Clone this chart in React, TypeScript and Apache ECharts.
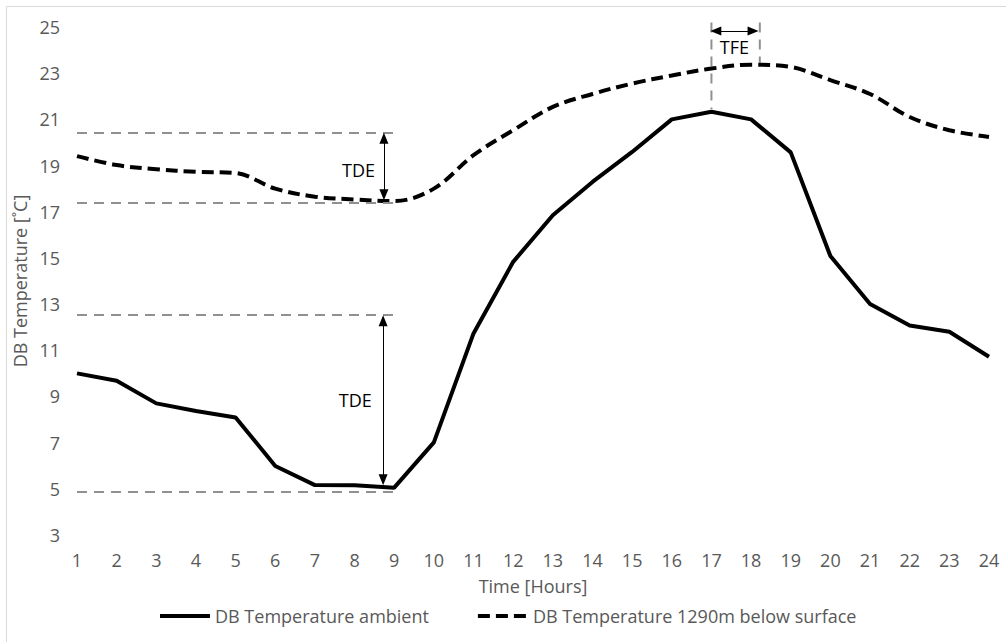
import React, { useEffect, useRef } from "react";
import * as echarts from "echarts";

const hours = [1, 2, 3, 4, 5, 6, 7, 8, 9, 10, 11, 12, 13, 14, 15, 16, 17, 18, 19, 20, 21, 22, 23, 24];
const ambient = [10.0, 9.68, 8.7, 8.37, 8.09, 5.99, 5.16, 5.15, 5.05, 7.01, 11.73, 14.83, 16.85, 18.29, 19.59, 21.0, 21.33, 21.0, 19.57, 15.08, 13.0, 12.07, 11.8, 10.72];
const underground = [19.41, 19.02, 18.84, 18.73, 18.68, 18.0, 17.65, 17.53, 17.46, 18.0, 19.45, 20.53, 21.54, 22.1, 22.55, 22.9, 23.2, 23.37, 23.27, 22.7, 22.1, 21.1, 20.53, 20.24];

const seriesNames = ["DB Temperature ambient", "DB Temperature 1290m below surface"];
const xAxisName = "Time [Hours]";
const yAxisName = "DB Temperature [˚C]";

// annotation levels (data space)
const tdeUpperLevels = [20.42, 17.4];
const tdeLowerLevels = [12.52, 4.87];
const tdeGuideFrom = 1;
const tdeGuideTo = 9;
const tdeUpperArrow = { x: 8.74, from: 20.42, to: 17.5 };
const tdeLowerArrow = { x: 8.72, from: 12.52, to: 5.15 };
const tdeUpperLabel = [8.1, 18.8];
const tdeLowerLabel = [8.02, 8.84];
const tfeGuides = [
  { x: 17, from: 25.2, to: 21.45 },
  { x: 18.22, from: 25.2, to: 23.45 },
];
const tfeArrow = { y: 24.83, from: 16.97, to: 18.19 };
const tfeLabel = [17.58, 24.14];

const FONT = "'Open Sans', 'Noto Sans', sans-serif";
const GRAY_TEXT = "#595959";
const GUIDE_GRAY = "#909090";

export default function App() {
  const ref = useRef<HTMLDivElement>(null);

  useEffect(() => {
    if (!ref.current) return;
    const chart = echarts.init(ref.current, undefined, { renderer: "svg" });

    const headY = 0.24; // half arrow head in y units
    const headX = 0.14; // half arrow head in x units
    const guideStyle = { color: GUIDE_GRAY, width: 2, type: [10, 7] as any };
    const arrowStyle = { color: "#000000", width: 1, type: "solid" as any };
    const arrowSym = { symbol: "triangle", symbolSize: [9, 11] };

    const guide = (x1: number, y1: number, x2: number, y2: number) => [
      { coord: [x1, y1], symbol: "none", lineStyle: guideStyle },
      { coord: [x2, y2], symbol: "none", lineStyle: guideStyle },
    ];
    const arrow = (x1: number, y1: number, x2: number, y2: number) => [
      { coord: [x1, y1], ...arrowSym, lineStyle: arrowStyle },
      { coord: [x2, y2], ...arrowSym, lineStyle: arrowStyle },
    ];

    const markData: any[] = [];
    [...tdeUpperLevels, ...tdeLowerLevels].forEach((lv) => markData.push(guide(tdeGuideFrom, lv, tdeGuideTo, lv)));
    markData.push(arrow(tdeUpperArrow.x, tdeUpperArrow.from - headY, tdeUpperArrow.x, tdeUpperArrow.to + headY));
    markData.push(arrow(tdeLowerArrow.x, tdeLowerArrow.from - headY, tdeLowerArrow.x, tdeLowerArrow.to + headY));
    markData.push(arrow(tfeArrow.from + headX, tfeArrow.y, tfeArrow.to - headX, tfeArrow.y));

    const labelPoint = (c: number[], text: string) => ({
      coord: c,
      value: text,
      symbol: "circle",
      symbolSize: 0,
      label: {
        show: true,
        position: "inside",
        formatter: text,
        color: "#000000",
        fontFamily: FONT,
        fontSize: 18,
      },
    });

    const border = {
      id: "border",
      type: "rect",
      shape: { x: 6.5, y: 6.5, width: 1100, height: 700 },
      style: { fill: "none", stroke: "#d9d9d9", lineWidth: 1 },
      silent: true,
      z: -10,
    };

    chart.setOption({
      animation: false,
      textStyle: { fontFamily: FONT },
      graphic: [border],
      grid: { left: 77, right: 17, top: 27, bottom: 107 },
      legend: {
        left: 153,
        top: 602,
        itemWidth: 50,
        itemHeight: 16,
        itemGap: 47,
        itemStyle: { opacity: 0 },
        lineStyle: { width: 4 },
        textStyle: { fontFamily: FONT, fontSize: 18, color: GRAY_TEXT },
        data: seriesNames,
      },
      xAxis: {
        type: "value",
        min: 1,
        max: 24,
        interval: 1,
        name: xAxisName,
        nameLocation: "middle",
        nameGap: 42,
        nameTextStyle: { fontFamily: FONT, fontSize: 18, color: GRAY_TEXT },
        axisLine: { show: false },
        axisTick: { show: false },
        splitLine: { show: false },
        axisLabel: { margin: 16, fontFamily: FONT, fontSize: 18, color: GRAY_TEXT },
      },
      yAxis: {
        type: "value",
        min: 3,
        max: 25,
        interval: 1,
        name: yAxisName,
        nameLocation: "middle",
        nameGap: 40,
        nameTextStyle: { fontFamily: FONT, fontSize: 18, color: GRAY_TEXT },
        axisLine: { show: false },
        axisTick: { show: false },
        splitLine: { show: false },
        axisLabel: {
          margin: 17,
          fontFamily: FONT,
          fontSize: 18,
          color: GRAY_TEXT,
          formatter: (v: number) => (Math.round(v) % 2 === 1 ? String(v) : ""),
        },
      },
      series: [
        {
          name: seriesNames[0],
          type: "line",
          data: hours.map((h, i) => [h, ambient[i]]),
          symbol: "none",
          showSymbol: false,
          clip: false,
          lineStyle: { color: "#000000", width: 4, type: "solid" },
          itemStyle: { color: "#000000" },
          z: 3,
          markLine: {
            silent: true,
            animation: false,
            label: { show: false },
            symbol: ["none", "none"],
            data: markData,
          },
          markPoint: {
            silent: true,
            animation: false,
            data: [
              labelPoint(tdeUpperLabel, "TDE"),
              labelPoint(tdeLowerLabel, "TDE"),
              labelPoint(tfeLabel, "TFE"),
            ],
          },
        },
        {
          name: seriesNames[1],
          type: "line",
          data: hours.map((h, i) => [h, underground[i]]),
          symbol: "none",
          showSymbol: false,
          smooth: 0.35,
          lineStyle: { color: "#000000", width: 4, type: [12, 6] },
          itemStyle: { color: "#000000" },
          z: 3,
        },
      ],
    });

    // TFE guides reach slightly above the axis top; place them via the axis scales
    const guideGraphics = tfeGuides.map((g, i) => {
      const p1 = chart.convertToPixel({ gridIndex: 0 }, [g.x, g.from]) as number[];
      const p2 = chart.convertToPixel({ gridIndex: 0 }, [g.x, g.to]) as number[];
      return {
        id: "tfeGuide" + i,
        type: "line",
        shape: { x1: p1[0], y1: p1[1], x2: p2[0], y2: p2[1] },
        style: { stroke: GUIDE_GRAY, lineWidth: 2, lineDash: [10, 7] },
        silent: true,
        z: 1,
      };
    });
    chart.setOption({ graphic: [border, ...guideGraphics] });

    return () => chart.dispose();
  }, []);

  return (
    <div
      ref={ref}
      style={{ position: "absolute", left: 0, top: 0, width: 1006, height: 642, background: "#ffffff" }}
    />
  );
}
